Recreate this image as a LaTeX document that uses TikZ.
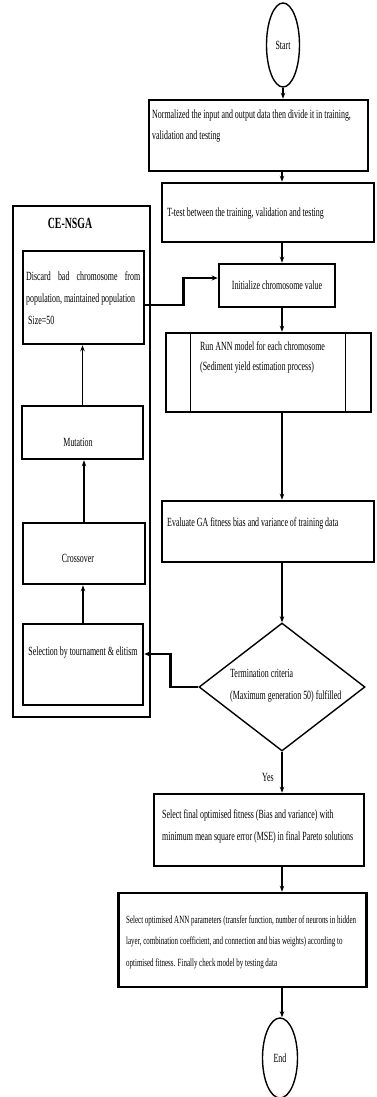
\documentclass[tikz,border=0pt]{standalone}
\usepackage{fontspec}
\setmainfont{Liberation Serif}[FakeStretch=0.634]
\usetikzlibrary{shapes.geometric,arrows.meta}
\begin{document}
\begin{tikzpicture}[x=1pt,y=-1pt,
  box/.style={draw,line width=2.6pt,rectangle,inner sep=0pt},
  oval/.style={draw,ellipse,line width=1.4pt,inner sep=0pt,font=\fontsize{12.5}{14}\selectfont},
  txt/.style={inner sep=0pt,font=\fontsize{12.5}{21}\selectfont,align=left},
  arr/.style={line width=1.2pt,-{Stealth[length=6pt,width=4.5pt]}},
  tarr/.style={line width=2.4pt,-{Stealth[length=6pt,width=5pt]}}]
\fill[white] (0,0) rectangle (377,1097);
\useasboundingbox (0,0) rectangle (377,1097);

% main column
\node[oval,minimum width=33pt,minimum height=84pt] (start) at (283,45) {Start};
\node[box,minimum width=219pt,minimum height=71pt] (b1) at (258.5,135.5) {};
\node[txt,anchor=north west] (t1) at (152,109.4) {Normalized the input and output data then divide it in training,\\validation and testing};
\node[box,minimum width=212pt,minimum height=59pt] (b2) at (268,212.5) {};
\node[txt,anchor=base west] (t2) at (167,216.5) {T-test between the training, validation and testing};
\node[box,minimum width=116pt,minimum height=43pt,font=\fontsize{12.5}{14}\selectfont] (init) at (277,285.5) {Initialize chromosome value};
\node[box,minimum width=205pt,minimum height=79pt] (run) at (268.5,372.5) {};
\draw[line width=1.3pt] ([xshift=26pt]run.north west) -- ([xshift=26pt]run.south west);
\draw[line width=1.3pt] ([xshift=-27pt]run.north east) -- ([xshift=-27pt]run.south east);
\node[txt,anchor=north west,font=\fontsize{12.5}{20.5}\selectfont] (trun) at (200,341.4) {Run ANN model for each chromosome\\(Sediment yield estimation process)};
\node[box,minimum width=212pt,minimum height=61pt] (eval) at (268,531.5) {};
\node[txt,anchor=base west] (teval) at (167,526.5) {Evaluate GA fitness bias and variance of training data};
\node[draw,diamond,line width=1.4pt,inner sep=0pt,minimum width=166pt,minimum height=128pt] (dia) at (282,687) {};
\node[txt,anchor=north west,font=\fontsize{12.5}{22}\selectfont] (tdia) at (230,669.4) {Termination criteria\\(Maximum generation 50) fulfilled};
\node[txt,anchor=center] (yes) at (268,777) {Yes};
\node[box,minimum width=210pt,minimum height=72pt] (fin) at (259,830) {};
\node[txt,anchor=north west,font=\fontsize{12.5}{22}\selectfont] (tfin) at (162,809.4) {Select final optimised fitness (Bias and variance) with\\minimum mean square error (MSE) in final Pareto solutions};
\node[box,minimum width=248.5pt,minimum height=94pt] (last) at (242.5,940) {};
\node[txt,anchor=north west,font=\fontsize{11}{21.5}\selectfont] (tlast) at (126,915.5) {Select optimised ANN parameters (transfer function, number of neurons in hidden\\layer, combination coefficient, and connection and bias weights) according to\\optimised fitness. Finally check model by testing data};
\node[oval,minimum width=35pt,minimum height=80pt] (end) at (280,1058) {End};

% CE-NSGA block
\node[draw,rectangle,line width=1.8pt,minimum width=137pt,minimum height=511pt] (ce) at (81.5,461.5) {};
\node[inner sep=0pt,font=\fontsize{15.5}{17}\selectfont\bfseries] (cet) at (70,223) {CE-NSGA};
\node[box,minimum width=121pt,minimum height=93pt] (disc) at (83.5,297.5) {};
\node[txt,anchor=north west,font=\fontsize{12.5}{22}\selectfont] (tdisc) at (26,271.4) {\makebox[114pt][s]{Discard bad chromosome from}\\population, maintained population\\\hspace*{2pt}Size=50};
\node[box,minimum width=121pt,minimum height=53pt] (mut) at (82.5,432.5) {};
\node[txt] (tmut) at (78,442) {Mutation};
\node[box,minimum width=122pt,minimum height=61pt] (cross) at (84,553.5) {};
\node[txt] (tcross) at (78,558) {Crossover};
\node[box,minimum width=120pt,minimum height=81pt] (sel) at (83,664.5) {};
\node[txt] (tsel) at (83,653) {Selection by tournament \& elitism};

% connectors
\coordinate (col) at (282,0);
\draw[arr] (start.south) -- (start.south |- b1.north);
\draw[arr] (col |- b1.south) -- (col |- b2.north);
\draw[arr] (col |- b2.south) -- (col |- init.north);
\draw[arr] (col |- init.south) -- (col |- run.north);
\draw[arr] (col |- run.south) -- (col |- eval.north);
\draw[arr] (col |- eval.south) -- (dia.north);
\draw[arr] (dia.south) -- (col |- fin.north);
\draw[arr] (col |- fin.south) -- (col |- last.north);
\draw[arr] (col |- last.south) -- (col |- end.north);
\draw[tarr] ([yshift=-7.5pt]disc.east) -- ++(38,0) |- ([yshift=7.5pt]init.west);
\draw[tarr] (dia.west) -- ++(-28,0) |- ([yshift=10.5pt]sel.east);
\draw[arr] (sel.north) -- (sel.north |- cross.south);
\draw[arr] (cross.north) -- (cross.north |- mut.south);
\draw[arr] (mut.north) -- (mut.north |- disc.south);
\end{tikzpicture}
\end{document}
